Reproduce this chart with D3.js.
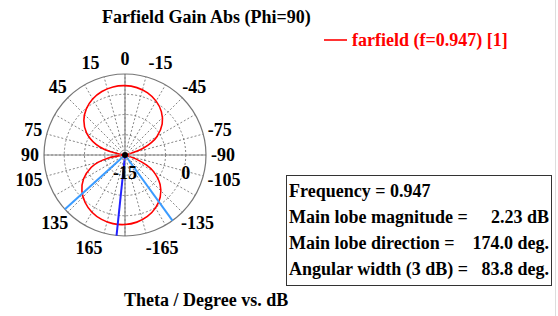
<!DOCTYPE html>
<html>
<head>
<meta charset="utf-8">
<script src="https://cdn.jsdelivr.net/npm/d3@7"></script>
<style>
  body { margin: 0; background: #fff; }
  svg { display: block; }
  text { font-family: "Liberation Serif", "Times New Roman", serif; font-weight: bold; }
</style>
</head>
<body>
<div id="chart"></div>
<script>
// theta in degrees (0 at top, positive counter-clockwise), gain in dB
var thetaDeg = [0, 10, 20, 30, 40, 50, 60, 70, 75, 80, 85, 90, 95, 100, 105, 110, 120, 130, 140, 150, 160, 170,
                180, 190, 200, 210, 220, 230, 240, 245, 250, 255, 260, 265, 270, 275, 280, 285, 290, 295, 300, 310, 320, 330, 340, 350];
var gainDb   = [2.12, 2.07, 1.70, 0.98, -0.14, -1.74, -4.03, -7.40, -9.8, -13.0, -17.9, -20.7, -14.6, -10.87, -8.2, -6.15, -3.17, -1.12, 0.32, 1.31, 1.92, 2.21,
                2.17, 1.83, 1.15, 0.08, -1.47, -3.68, -6.91, -9.2, -12.19, -16.6, -25, -25, -25, -30, -19.2, -13.8, -10.35, -7.83, -5.87, -3.01, -1.03, 0.36, 1.31, 1.89];
var angleTicks = [0, 15, -15, 45, -45, 75, -75, 90, -90, 105, -105, 135, -135, 165, -165];
var dbTicks = [-15, 0];
var dbGrid = [-10, -5, 0];
var beamDirs = [174.0];
var beamEdges = [132.1, -144.1];
var infoLabels = ["Frequency = 0.947", "Main lobe magnitude =", "Main lobe direction =", "Angular width (3 dB) ="];
var infoValues = ["", "2.23 dB", "174.0 deg.", "83.8 deg."];

var W = 558, H = 316, cx = 125, cy = 155, R = 81, FS = 18;

var svg = d3.select('#chart').append('svg').attr('width', W).attr('height', H);

var r = d3.scaleLinear().domain([-15, 5]).range([0, R]).clamp(true);
var rad = function(t){ return -t * Math.PI / 180; };  // positive theta goes left

var g = svg.append('g').attr('transform', 'translate(' + cx + ',' + cy + ')');

// dotted grid circles
g.selectAll('circle.grid').data(dbGrid).enter().append('circle')
  .attr('r', function(d){ return r(d); })
  .attr('fill', 'none').attr('stroke', '#666').attr('stroke-width', 0.8)
  .attr('stroke-dasharray', '2,2');

// spokes every 15 deg
g.selectAll('line.spoke').data(d3.range(0, 360, 15)).enter().append('line')
  .attr('x1', function(d){ return 8 * Math.sin(rad(d)); })
  .attr('y1', function(d){ return -8 * Math.cos(rad(d)); })
  .attr('x2', function(d){ return R * Math.sin(rad(d)); })
  .attr('y2', function(d){ return -R * Math.cos(rad(d)); })
  .attr('stroke', '#666').attr('stroke-width', 0.8).attr('stroke-dasharray', '2,2');

// axes
g.append('line').attr('x1', -R).attr('x2', R).attr('y1', 0).attr('y2', 0)
  .attr('stroke', '#888').attr('stroke-width', 1.2);
g.append('line').attr('x1', 0).attr('x2', 0).attr('y1', -R).attr('y2', R)
  .attr('stroke', '#888').attr('stroke-width', 1.2);
g.append('circle').attr('r', R).attr('fill', 'none').attr('stroke', '#777').attr('stroke-width', 1.2);

// pattern
var pts = thetaDeg.map(function(t, i){ return [t, gainDb[i]]; });
var line = d3.lineRadial()
  .angle(function(d){ return rad(d[0]); })
  .radius(function(d){ return r(d[1]); })
  .curve(d3.curveCatmullRomClosed.alpha(0.5));
g.append('path').datum(pts).attr('d', line)
  .attr('fill', 'none').attr('stroke', '#f00').attr('stroke-width', 1.6);

// beam lines
var beamLine = function(sel, data, color){
  sel.selectAll(null).data(data).enter().append('line')
    .attr('x1', 0).attr('y1', 0)
    .attr('x2', function(d){ return R * Math.sin(rad(d)); })
    .attr('y2', function(d){ return -R * Math.cos(rad(d)); })
    .attr('stroke', color).attr('stroke-width', 2);
};
beamLine(g, beamEdges, '#3a9bff');
beamLine(g, beamDirs, '#2222ff');

// centre marker
g.append('circle').attr('r', 5).attr('fill', 'none').attr('stroke', '#999').attr('stroke-width', 1);
g.append('circle').attr('r', 3).attr('fill', '#000');

// angle labels, pushed out by half their box along the ray
g.selectAll('text.ang').data(angleTicks).enter().append('text')
  .attr('text-anchor', 'middle').attr('dy', '0.35em').attr('font-size', FS)
  .text(function(d){ return d; })
  .each(function(d){
    var el = d3.select(this), a = rad(d), w = this.getComputedTextLength(),
      ux = Math.sin(a), uy = -Math.cos(a),
      x = (R + 5) * ux + ux * w / 2, y = (R + 6) * uy + uy * 9;
    if(Math.abs(d) === 15 || Math.abs(d) === 165) x *= 1.4;
    el.attr('x', x).attr('y', y);
  });

// dB labels, under the horizontal axis
g.selectAll('text.db').data(dbTicks).enter().append('text')
  .attr('x', function(d){ return r(d); }).attr('y', 18).attr('dy', '0.35em')
  .attr('text-anchor', 'middle').attr('font-size', FS)
  .text(function(d){ return d; });

// title and axis label
svg.append('text').attr('x', 102).attr('y', 23).attr('font-size', FS).text('Farfield Gain Abs (Phi=90)');
svg.append('text').attr('x', 124).attr('y', 306).attr('font-size', FS).text('Theta / Degree vs. dB');

// legend
svg.append('line').attr('x1', 324).attr('x2', 347).attr('y1', 40).attr('y2', 40)
  .attr('stroke', '#f00').attr('stroke-width', 1.6);
svg.append('text').attr('x', 352).attr('y', 46).attr('font-size', FS).attr('fill', '#f00')
  .text('farfield (f=0.947) [1]');

// right border
svg.append('line').attr('x1', 555.5).attr('x2', 555.5).attr('y1', 0).attr('y2', H)
  .attr('stroke', '#ddd').attr('stroke-width', 1);

// info box
var box = svg.append('g');
box.append('rect').attr('x', 286.5).attr('y', 175.5).attr('width', 265).attr('height', 110)
  .attr('fill', '#fff').attr('stroke', '#333').attr('stroke-width', 1);
box.selectAll('text.lab').data(infoLabels).enter().append('text')
  .attr('x', 289).attr('y', function(d, i){ return 197 + i * 26; })
  .attr('font-size', FS).text(function(d){ return d; });
box.selectAll('text.val').data(infoValues).enter().append('text')
  .attr('x', 549).attr('y', function(d, i){ return 197 + i * 26; })
  .attr('text-anchor', 'end').attr('font-size', FS).text(function(d){ return d; });
</script>
</body>
</html>
